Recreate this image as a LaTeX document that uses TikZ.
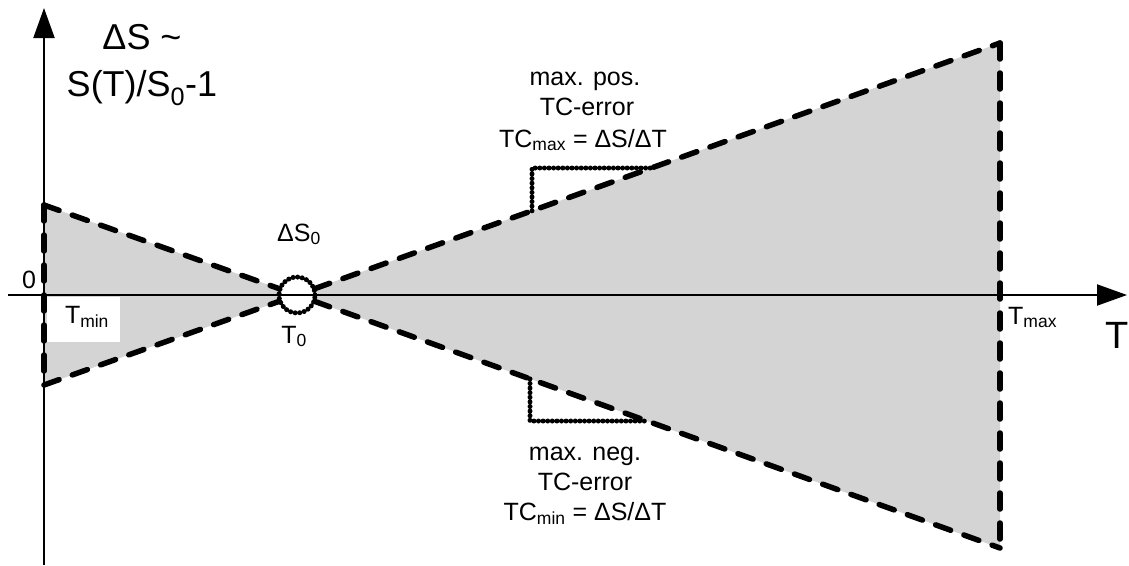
\documentclass[tikz,border=0pt]{standalone}
\usepackage{fontspec}
\setmainfont{Liberation Sans}
\usetikzlibrary{arrows.meta}
\begin{document}
\begin{tikzpicture}[x=1pt,y=-1pt,
  axis/.style={line width=2pt,-{Triangle[length=30pt,width=21pt]}},
  bound/.style={line width=5.5pt,line cap=round,dash pattern=on 16pt off 14pt},
  dots/.style={line width=5pt,line cap=round,dash pattern=on 0pt off 4.6pt},
  shade/.style={fill={rgb,255:red,212;green,212;blue,212}},
  lbl/.style={inner sep=0pt,anchor=base,font=\fontsize{25}{30}\selectfont},
  big/.style={inner sep=0pt,anchor=base,font=\fontsize{36}{44}\selectfont}]
\useasboundingbox (0,0) rectangle (1129,565);
% key points
\coordinate (ul) at (44,205);
\coordinate (ll) at (44,385);
\coordinate (o) at (297,295);
\coordinate (ur) at (1000,43);
\coordinate (lr) at (1000,548);
\coordinate (xs) at (8,295);
\coordinate (xe) at (1127,295);
\coordinate (ys) at (44,565);
\coordinate (ye) at (44,8);
% shaded tolerance band
\fill[shade] (ul) -- (o) -- (ll) -- cycle;
\fill[shade] (o) -- (ur) -- (lr) -- cycle;
\fill[white] (47,297) rectangle (120,342);
\node[circle,fill=white,minimum size=37pt,inner sep=0pt] (c) at (o) {};
% axes
\draw[axis] (xs) -- (xe);
\draw[axis] (ys) -- (ye);
% boundaries
\draw[bound] (ul) -- (ll);
\draw[bound] (ul) -- (c);
\draw[bound] (ll) -- (c);
\draw[bound] (c) -- (ur);
\draw[bound] (c) -- (lr);
\draw[bound] (ur) -- (lr);
\draw[dots] (c.center) circle (18pt);
% steps
\coordinate (p1) at (532,210.8);
\coordinate (p2) at (532,168);
\coordinate (p3) at (651,168);
\draw[dots] (p1) -- (p2) -- (p3);
\coordinate (q1) at (530,378.9);
\coordinate (q2) at (530,421);
\coordinate (q3) at (647,421);
\draw[dots] (q1) -- (q2) -- (q3);
% labels
\node[big] (ds) at (142,49) {ΔS \textasciitilde};
\node[big] (ds2) at (142,96) {S(T)/S\textsubscript{0}-1};
\node[lbl] (zero) at (29,288) {0};
\node[lbl] (tmin) at (87,323) {T\textsubscript{min}};
\node[lbl] (ds0) at (299,241) {ΔS\textsubscript{0}};
\node[lbl] (t0) at (294,343) {T\textsubscript{0}};
\node[lbl,anchor=base west] (tmax) at (1008,324) {T\textsubscript{max}};
\node[inner sep=0pt,anchor=base west,font=\fontsize{38}{44}\selectfont] (T) at (1105,348) {T};
\node[lbl] (pa) at (585,85) {max. pos.};
\node[lbl] (pb) at (587,115) {TC-error};
\node[lbl] (pc) at (583,147) {TC\textsubscript{max} = ΔS/ΔT};
\node[lbl] (na) at (585,460) {max. neg.};
\node[lbl] (nb) at (585,490) {TC-error};
\node[lbl] (nc) at (585,520) {TC\textsubscript{min} = ΔS/ΔT};
\end{tikzpicture}
\end{document}
